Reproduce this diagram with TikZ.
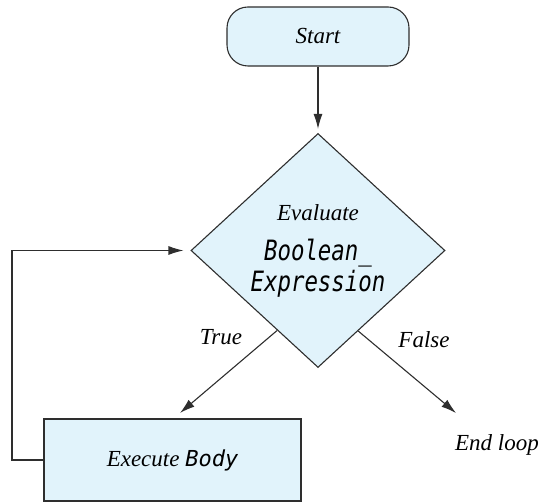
\documentclass[tikz,border=0pt]{standalone}
\usepackage{fontspec}
\usepackage{graphicx}
\setmainfont{Liberation Serif}
\newfontfamily\codefont{DejaVu Sans Mono}
\usetikzlibrary{shapes.geometric,arrows.meta,calc}
\definecolor{boxfill}{HTML}{E1F3FB}
\definecolor{lineclr}{HTML}{2E2E2E}
\tikzset{
  every node/.style={font=\fontsize{23}{24}\selectfont\itshape},
  conn/.style={draw=lineclr, line width=1.1pt},
  arr/.style={conn, -{Latex[length=15pt,width=9pt]}},
  pill/.style={draw=lineclr, fill=boxfill, line width=1.1pt, rounded corners=21pt, minimum width=182pt, minimum height=59pt, inner sep=0pt},
  decision/.style={diamond, draw=lineclr, fill=boxfill, line width=1.1pt, minimum width=254pt, minimum height=234pt, inner sep=0pt, align=center},
  procbox/.style={draw=lineclr, fill=boxfill, line width=1.1pt, minimum width=257pt, minimum height=82pt, inner sep=0pt},
  lbl/.style={inner sep=0pt}
}
\newcommand{\cd}[1]{{\codefont\itshape\fontsize{22}{23}\selectfont #1}}
\newcommand{\cdbig}[1]{\scalebox{0.8}[1]{\codefont\itshape\fontsize{28}{31}\selectfont #1}}
\begin{document}
\begin{tikzpicture}[x=1pt,y=1pt]
\useasboundingbox (0,0) rectangle (543,502);
\node[pill] (start) at (318,465.5) {Start};
\node[decision, font=\fontsize{23}{31}\selectfont] (dec) at (318,251.5) {\textit{Evaluate}\\[9pt]\cdbig{Boolean\_}\\\cdbig{Expression}};
\node[procbox] (body) at (172.5,42) {Execute \cd{Body}};
\node[lbl] (true) at (221,165) {True};
\node[lbl] (false) at (424,162) {False};
\node[lbl] (endl) at (497,57) {End loop};
\coordinate (tend) at (180,89);
\coordinate (fend) at (456,89);
\coordinate (lc1) at (12,42);
\draw[arr, shorten >=4pt] (start.south) -- (dec.north);
\draw[arr] ($(dec.south)!0.32!(dec.west)$) -- (tend);
\draw[arr] ($(dec.south)!0.315!(dec.east)$) -- (fend);
\draw[arr, shorten >=7pt] (body.west) -- (lc1) |- (dec.west);
\end{tikzpicture}
\end{document}
